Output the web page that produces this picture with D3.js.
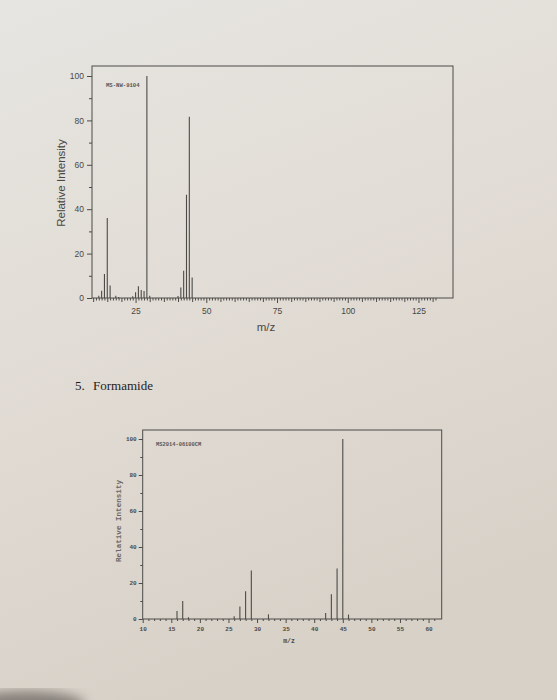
<!DOCTYPE html>
<html>
<head>
<meta charset="utf-8">
<script src="https://cdn.jsdelivr.net/npm/d3@7"></script>
<style>
  html, body { margin: 0; padding: 0; }
  body { width: 557px; height: 700px; overflow: hidden; }
  svg { display: block; }
</style>
</head>
<body>
<div id="chart"></div>
<script>
(function () {
  "use strict";

  // ── Datos ──────────────────────────────────────────────
  // Espectro superior (MS-NW-9104)
  const TOP_MZ = [12, 13, 14, 15, 16, 18, 19, 24, 25, 26, 27, 28, 29, 30, 40, 41, 42, 43, 44, 45];
  const TOP_INT = [1, 3.3, 10.8, 36, 5.6, 1, 0.5, 0.8, 2.6, 5.3, 3.6, 3.2, 100, 1, 0.9, 4.7, 12.3, 46.5, 81.6, 9.2];
  const TOP_XTICKS = [25, 50, 75, 100, 125];

  // Espectro inferior: Formamida (MS2014-06100CM)
  const BOT_MZ = [16, 17, 18, 26, 27, 28, 29, 32, 42, 43, 44, 45, 46];
  const BOT_INT = [4.4, 10, 1, 1.5, 7, 15.4, 27, 2.6, 3.4, 13.7, 28, 100, 2.5];
  const BOT_XTICKS = [10, 15, 20, 25, 30, 35, 40, 45, 50, 55, 60];

  const Y_TICKS = [0, 20, 40, 60, 80, 100];
  const Y_MINOR = [10, 30, 50, 70, 90];

  // ── Setup SVG ──────────────────────────────────────────
  const width = 557;
  const height = 700;
  const INK = "#4d4b48";

  const svg = d3.select("#chart").append("svg").attr("width", width).attr("height", height);

  // papel fotografiado
  const defs = svg.append("defs");
  const grad = defs.append("linearGradient").attr("id", "paper").attr("x1", 0).attr("y1", 0).attr("x2", 0.3).attr("y2", 1);
  grad.append("stop").attr("offset", "0%").attr("stop-color", "#e6e5e1");
  grad.append("stop").attr("offset", "45%").attr("stop-color", "#e2ddd6");
  grad.append("stop").attr("offset", "100%").attr("stop-color", "#d8d1c8");
  svg.append("rect").attr("width", width).attr("height", height).attr("fill", "url(#paper)");

  // sombra en la esquina inferior izquierda
  defs.append("filter").attr("id", "blur").append("feGaussianBlur").attr("stdDeviation", 6);
  svg.append("ellipse")
    .attr("cx", 25).attr("cy", 705).attr("rx", 60).attr("ry", 14)
    .attr("fill", "#6f6a65").attr("opacity", 0.8).attr("filter", "url(#blur)");

  function spectrum(cfg) {
    const g = svg.append("g");
    const x = d3.scaleLinear().domain(cfg.xDomain).range([cfg.left, cfg.right]);
    const y = d3.scaleLinear().domain([0, 100]).range([cfg.base, cfg.y100]);

    // marco
    g.append("rect")
      .attr("x", cfg.left)
      .attr("y", cfg.top)
      .attr("width", cfg.right - cfg.left)
      .attr("height", cfg.base - cfg.top)
      .attr("fill", "none")
      .attr("stroke", INK)
      .attr("stroke-width", 1);

    // eje Y
    const gy = g.append("g").attr("transform", `translate(${cfg.left},0)`)
      .call(d3.axisLeft(y).tickValues(Y_TICKS).tickSize(cfg.yTick).tickPadding(cfg.yPad));
    g.append("g").attr("transform", `translate(${cfg.left},0)`)
      .call(d3.axisLeft(y).tickValues(Y_MINOR).tickSize(cfg.yTick * 0.6).tickFormat(""));

    // eje X
    const gx = g.append("g").attr("transform", `translate(0,${cfg.base})`)
      .call(d3.axisBottom(x).tickValues(cfg.xTicks).tickSize(cfg.xTick).tickPadding(cfg.xPad));
    g.append("g").attr("transform", `translate(0,${cfg.base})`)
      .call(d3.axisBottom(x).tickValues(d3.range(cfg.minorFrom, cfg.minorTo + 1).filter((d) => d % 5 !== 0)).tickSize(cfg.xTick * 0.5).tickFormat(""));
    g.append("g").attr("transform", `translate(0,${cfg.base})`)
      .call(d3.axisBottom(x).tickValues(d3.range(cfg.minorFrom, cfg.minorTo + 1).filter((d) => d % 5 === 0 && !cfg.xTicks.includes(d))).tickSize(cfg.xTick * 0.8).tickFormat(""));

    g.selectAll(".domain").remove();
    g.selectAll(".tick line").attr("stroke", INK);
    [gx, gy].forEach((a) =>
      a.selectAll("text")
        .attr("font-family", cfg.font)
        .attr("font-weight", cfg.tickWeight)
        .attr("font-size", cfg.tickSize + "px")
        .attr("fill", cfg.tickColor)
    );

    // picos
    g.append("g")
      .selectAll("line")
      .data(cfg.mz.map((m, i) => ({ m, v: cfg.int[i] })))
      .join("line")
      .attr("x1", (d) => x(d.m))
      .attr("x2", (d) => x(d.m))
      .attr("y1", y(0))
      .attr("y2", (d) => y(d.v))
      .attr("stroke", INK)
      .attr("stroke-width", 1.1);

    // código
    g.append("text")
      .attr("x", cfg.codeX)
      .attr("y", cfg.codeY)
      .attr("font-family", "Liberation Mono, monospace")
      .attr("font-weight", "bold")
      .attr("font-size", cfg.codeSize + "px")
      .attr("fill", "#555")
      .text(cfg.code);

    // títulos de ejes
    g.append("text")
      .attr("x", cfg.mzX)
      .attr("y", cfg.mzY)
      .attr("text-anchor", "middle")
      .attr("font-family", cfg.font)
      .attr("font-weight", cfg.tickWeight)
      .attr("font-size", cfg.mzSize + "px")
      .attr("fill", cfg.tickColor)
      .text("m/z");

    g.append("text")
      .attr("transform", `translate(${cfg.ylX},${cfg.ylY}) rotate(-90)`)
      .attr("text-anchor", "middle")
      .attr("font-family", cfg.ylFont)
      .attr("font-weight", cfg.ylWeight)
      .attr("font-size", cfg.ylSize + "px")
      .attr("fill", cfg.ylColor)
      .text("Relative Intensity");
  }

  spectrum({
    mz: TOP_MZ, int: TOP_INT, xTicks: TOP_XTICKS,
    xDomain: [9.6, 137.2], left: 92, right: 453, top: 66, base: 298, y100: 76,
    minorFrom: 10, minorTo: 131,
    yTick: 5, yPad: 3, xTick: 5, xPad: 5,
    font: "Liberation Sans, Arial, sans-serif", tickWeight: "normal", tickSize: 8.5, tickColor: "#4a4845",
    code: "MS-NW-9104", codeX: 106, codeY: 87, codeSize: 5.6,
    mzX: 266, mzY: 331, mzSize: 11.5,
    ylX: 65, ylY: 183, ylFont: "Liberation Sans, Arial, sans-serif", ylWeight: "normal", ylSize: 11.5, ylColor: "#4a4845"
  });

  spectrum({
    mz: BOT_MZ, int: BOT_INT, xTicks: BOT_XTICKS,
    xDomain: [10, 62.3], left: 142.7, right: 441.7, top: 430, base: 619, y100: 439,
    minorFrom: 10, minorTo: 61,
    yTick: 4, yPad: 2, xTick: 4, xPad: 4,
    font: "Liberation Mono, monospace", tickWeight: "bold", tickSize: 6, tickColor: "#4a4845",
    code: "MS2014-06100CM", codeX: 156, codeY: 446, codeSize: 5.4,
    mzX: 289, mzY: 643, mzSize: 6.5,
    ylX: 121, ylY: 521, ylFont: "Liberation Mono, monospace", ylWeight: "bold", ylSize: 7.6, ylColor: "#6a6763"
  });

  // título de la sección
  const title = svg.append("text")
    .attr("x", 75)
    .attr("y", 390)
    .attr("font-family", "Liberation Serif, Times New Roman, serif")
    .attr("font-size", "13px")
    .attr("fill", "#1f1d1b");
  title.append("tspan").text("5.");
  title.append("tspan").attr("x", 93).text("Formamide");
})();
</script>
</body>
</html>
